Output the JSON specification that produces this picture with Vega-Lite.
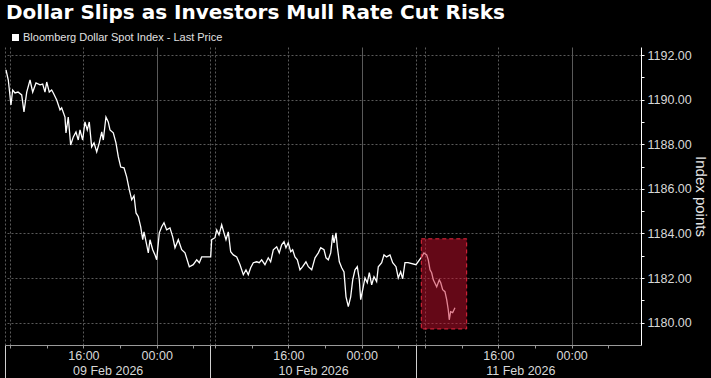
{
  "$schema": "https://vega.github.io/schema/vega-lite/v6.json",
  "width": 636,
  "height": 298,
  "autosize": {"type": "none"},
  "padding": {"left": 5, "top": 47, "right": 70, "bottom": 33},
  "background": "#000000",
  "config": {"view": {"stroke": null}},
  "title": {
    "text": "Dollar Slips as Investors Mull Rate Cut Risks",
    "anchor": "start",
    "frame": "group",
    "offset": 9,
    "dx": 1,
    "font": "DejaVu Sans",
    "fontSize": 20,
    "fontWeight": "bold",
    "color": "#ffffff"
  },
  "datasets": {
    "prices": [
      {"hour":0.11,"price":1191.33},{"hour":0.36,"price":1190.88},{"hour":0.65,"price":1189.76},{"hour":0.84,"price":1190.43},
      {"hour":1.09,"price":1190.30},{"hour":1.42,"price":1190.34},{"hour":1.82,"price":1190.21},{"hour":2.07,"price":1189.45},
      {"hour":2.37,"price":1190.34},{"hour":2.73,"price":1190.88},{"hour":3.02,"price":1190.34},{"hour":3.38,"price":1190.75},
      {"hour":3.82,"price":1190.66},{"hour":4.11,"price":1190.70},{"hour":4.36,"price":1190.34},{"hour":4.55,"price":1190.79},
      {"hour":4.83,"price":1190.34},{"hour":5.09,"price":1190.43},{"hour":5.27,"price":1190.30},{"hour":5.64,"price":1189.98},
      {"hour":6.00,"price":1189.54},{"hour":6.18,"price":1189.63},{"hour":6.54,"price":1189.22},{"hour":6.65,"price":1188.51},
      {"hour":6.90,"price":1189.22},{"hour":7.16,"price":1187.97},{"hour":7.45,"price":1188.33},{"hour":7.74,"price":1188.55},
      {"hour":7.99,"price":1188.19},{"hour":8.18,"price":1188.64},{"hour":8.47,"price":1188.19},{"hour":8.72,"price":1189.00},
      {"hour":8.97,"price":1188.64},{"hour":9.19,"price":1189.00},{"hour":9.45,"price":1187.88},{"hour":9.71,"price":1188.06},
      {"hour":10.00,"price":1187.66},{"hour":10.28,"price":1188.06},{"hour":10.55,"price":1188.55},{"hour":10.72,"price":1188.19},
      {"hour":11.01,"price":1189.22},{"hour":11.26,"price":1189.00},{"hour":11.45,"price":1188.64},{"hour":11.81,"price":1188.51},
      {"hour":12.10,"price":1188.06},{"hour":12.36,"price":1187.43},{"hour":12.62,"price":1186.98},{"hour":12.98,"price":1186.94},
      {"hour":13.27,"price":1186.54},{"hour":13.56,"price":1185.95},{"hour":13.82,"price":1185.51},{"hour":14.07,"price":1185.69},
      {"hour":14.29,"price":1184.92},{"hour":14.54,"price":1184.75},{"hour":14.80,"price":1184.30},{"hour":15.02,"price":1183.72},
      {"hour":15.16,"price":1184.07},{"hour":15.38,"price":1183.63},{"hour":15.63,"price":1183.13},{"hour":15.81,"price":1183.72},
      {"hour":16.11,"price":1183.27},{"hour":16.36,"price":1183.04},{"hour":16.54,"price":1182.82},{"hour":16.83,"price":1184.03},
      {"hour":17.09,"price":1184.30},{"hour":17.34,"price":1184.48},{"hour":17.63,"price":1184.16},{"hour":17.99,"price":1184.25},
      {"hour":18.29,"price":1183.85},{"hour":18.54,"price":1183.36},{"hour":18.90,"price":1183.72},{"hour":19.27,"price":1183.27},
      {"hour":19.63,"price":1183.13},{"hour":20.10,"price":1182.51},{"hour":20.53,"price":1182.60},{"hour":20.91,"price":1182.82},
      {"hour":21.19,"price":1182.69},{"hour":21.45,"price":1182.95},{"hour":22.43,"price":1182.95},{"hour":22.54,"price":1183.72},
      {"hour":22.90,"price":1183.81},{"hour":23.09,"price":1184.16},{"hour":23.34,"price":1183.94},{"hour":23.63,"price":1184.39},
      {"hour":23.88,"price":1184.03},{"hour":24.10,"price":1183.72},{"hour":24.35,"price":1184.07},{"hour":24.61,"price":1183.18},
      {"hour":24.90,"price":1183.04},{"hour":25.27,"price":1182.95},{"hour":25.63,"price":1182.60},{"hour":25.99,"price":1182.15},
      {"hour":26.28,"price":1182.37},{"hour":26.53,"price":1182.15},{"hour":26.79,"price":1182.46},{"hour":27.08,"price":1182.69},
      {"hour":27.45,"price":1182.73},{"hour":27.73,"price":1182.69},{"hour":27.99,"price":1182.82},{"hour":28.35,"price":1182.60},
      {"hour":28.71,"price":1182.91},{"hour":28.97,"price":1182.73},{"hour":29.26,"price":1183.27},{"hour":29.63,"price":1183.40},
      {"hour":29.91,"price":1183.13},{"hour":30.17,"price":1183.49},{"hour":30.43,"price":1183.63},{"hour":30.64,"price":1183.36},
      {"hour":30.89,"price":1183.58},{"hour":31.16,"price":1183.18},{"hour":31.37,"price":1183.27},{"hour":31.62,"price":1182.95},
      {"hour":31.88,"price":1182.82},{"hour":32.17,"price":1182.37},{"hour":32.46,"price":1182.51},{"hour":32.82,"price":1182.73},
      {"hour":33.08,"price":1182.51},{"hour":33.45,"price":1182.37},{"hour":33.81,"price":1182.91},{"hour":34.17,"price":1183.13},
      {"hour":34.43,"price":1183.36},{"hour":34.79,"price":1183.27},{"hour":35.01,"price":1182.91},{"hour":35.26,"price":1182.82},
      {"hour":35.52,"price":1183.13},{"hour":35.74,"price":1183.94},{"hour":35.88,"price":1183.58},{"hour":36.10,"price":1184.03},
      {"hour":36.24,"price":1183.40},{"hour":36.46,"price":1182.73},{"hour":36.72,"price":1182.46},{"hour":36.97,"price":1182.28},
      {"hour":37.19,"price":1181.16},{"hour":37.44,"price":1180.72},{"hour":37.70,"price":1181.16},{"hour":37.92,"price":1181.92},
      {"hour":38.17,"price":1182.37},{"hour":38.42,"price":1182.51},{"hour":38.64,"price":1181.92},{"hour":38.79,"price":1181.03},
      {"hour":39.01,"price":1181.48},{"hour":39.26,"price":1182.01},{"hour":39.51,"price":1181.79},{"hour":39.73,"price":1182.24},
      {"hour":39.99,"price":1181.70},{"hour":40.24,"price":1182.06},{"hour":40.53,"price":1181.84},{"hour":40.71,"price":1182.51},
      {"hour":41.08,"price":1182.69},{"hour":41.33,"price":1183.04},{"hour":41.62,"price":1182.95},{"hour":41.98,"price":1183.04},
      {"hour":42.28,"price":1182.69},{"hour":42.64,"price":1182.51},{"hour":42.89,"price":1182.01},{"hour":43.15,"price":1182.28},
      {"hour":43.37,"price":1181.97},{"hour":43.62,"price":1182.69},{"hour":43.95,"price":1182.69},{"hour":44.82,"price":1182.60},
      {"hour":45.44,"price":1182.95},{"hour":45.69,"price":1183.13},{"hour":45.99,"price":1183.04},{"hour":46.16,"price":1182.82},
      {"hour":46.35,"price":1182.37},{"hour":46.53,"price":1182.24},{"hour":46.71,"price":1181.92},{"hour":47.08,"price":1181.61},
      {"hour":47.36,"price":1181.92},{"hour":47.52,"price":1181.79},{"hour":47.73,"price":1181.48},{"hour":47.98,"price":1181.39},
      {"hour":48.17,"price":1181.03},{"hour":48.34,"price":1180.58},{"hour":48.45,"price":1180.13},{"hour":48.60,"price":1180.49},
      {"hour":48.82,"price":1180.45},{"hour":49.07,"price":1180.67}
    ],
    "box": [{"hour_start": 45.4, "hour_end": 50.35, "price_low": 1179.72, "price_high": 1183.76}]
  },
  "layer": [
    {
      "data": {"name": "prices"},
      "mark": {"type": "line", "strokeWidth": 1.3, "interpolate": "linear"},
      "encoding": {
        "x": {
          "field": "hour",
          "type": "quantitative",
          "title": null,
          "scale": {"domain": [0, 69.36], "nice": false, "zero": false},
          "axis": {
            "values": [0, 0.55, 4.55, 8.55, 12.55, 16.55, 20.55, 11.2, 22.4, 22.9, 26.9, 30.9, 34.9, 38.9, 42.9, 33.6, 44.8, 45.8, 49.8, 53.8, 57.8, 61.8, 65.8, 56.2],
            "tickCount": 200,
            "labelExpr": "(abs(datum.value-8.55)<0.01 || abs(datum.value-30.9)<0.01 || abs(datum.value-53.8)<0.01) ? '16:00' : (abs(datum.value-16.55)<0.01 || abs(datum.value-38.9)<0.01 || abs(datum.value-61.8)<0.01) ? '00:00' : abs(datum.value-11.2)<0.01 ? ['', '09 Feb 2026'] : abs(datum.value-33.6)<0.01 ? ['', '10 Feb 2026'] : abs(datum.value-56.2)<0.01 ? ['', '11 Feb 2026'] : ''",
            "labelOverlap": false,
            "labelFlush": false,
            "labelBound": false,
            "labelFont": "Liberation Sans",
            "labelFontSize": 12.5,
            "labelColor": "#d8d8d8",
            "labelPadding": 1,
            "labelLineHeight": 15,
            "labelBaseline": "top",
            "domainColor": "#9a9a9a",
            "tickSize": {"condition": {"test": "abs(datum.value-0)<0.01 || abs(datum.value-22.4)<0.01 || abs(datum.value-44.8)<0.01", "value": 33}, "value": 3},
            "tickColor": {"condition": {"test": "abs(datum.value-0)<0.01 || abs(datum.value-22.4)<0.01 || abs(datum.value-44.8)<0.01", "value": "#d0d0d0"}, "value": "#9a9a9a"},
            "tickOpacity": {"condition": {"test": "abs(datum.value-11.2)<0.01 || abs(datum.value-33.6)<0.01 || abs(datum.value-56.2)<0.01", "value": 0}, "value": 1},
            "grid": true,
            "gridColor": "#5a5a5a",
            "gridDash": {"condition": {"test": "abs(datum.value-16.55)<0.01 || abs(datum.value-38.9)<0.01 || abs(datum.value-61.8)<0.01", "value": []}, "value": [2, 2]},
            "gridOpacity": {"condition": {"test": "abs(datum.value-0)<0.01 || abs(datum.value-0.55)<0.01 || abs(datum.value-8.55)<0.01 || abs(datum.value-16.55)<0.01 || abs(datum.value-22.4)<0.01 || abs(datum.value-22.9)<0.01 || abs(datum.value-30.9)<0.01 || abs(datum.value-38.9)<0.01 || abs(datum.value-44.8)<0.01 || abs(datum.value-45.8)<0.01 || abs(datum.value-53.8)<0.01 || abs(datum.value-61.8)<0.01", "value": 1}, "value": 0}
          }
        },
        "y": {
          "field": "price",
          "type": "quantitative",
          "title": "Index points",
          "scale": {"domain": [1179.0, 1192.36], "nice": false, "zero": false},
          "axis": {
            "orient": "right",
            "values": [1180, 1181, 1182, 1183, 1184, 1185, 1186, 1187, 1188, 1189, 1190, 1191, 1192],
            "tickCount": 200,
            "labelExpr": "datum.value % 2 == 0 ? format(datum.value, '.2f') : ''",
            "labelOverlap": false,
            "labelFont": "Liberation Sans",
            "labelFontSize": 12.5,
            "labelColor": "#d8d8d8",
            "labelPadding": 3,
            "tickSize": 3,
            "tickColor": "#ffffff",
            "domainColor": "#ffffff",
            "grid": true,
            "gridColor": "#5a5a5a",
            "gridDash": [2, 2],
            "gridOpacity": {"condition": {"test": "datum.value % 2 == 0", "value": 1}, "value": 0},
            "titleFont": "Liberation Sans",
            "titleFontSize": 15,
            "titleFontWeight": "normal",
            "titleColor": "#e8e8e8",
            "titlePadding": 1
          }
        },
        "color": {
          "datum": "Bloomberg Dollar Spot Index - Last Price",
          "type": "nominal",
          "scale": {"range": ["#ffffff"]},
          "legend": {
            "orient": "none",
            "legendX": 5,
            "legendY": -15,
            "title": null,
            "symbolType": "square",
            "symbolSize": 30,
            "symbolFillColor": "#ffffff",
            "symbolStrokeColor": "#ffffff",
            "labelFont": "Liberation Sans",
            "labelFontSize": 11,
            "labelColor": "#e0e0e0",
            "labelOffset": 2,
            "labelLimit": 0
          }
        }
      }
    },
    {
      "data": {"name": "box"},
      "mark": {"type": "rect", "fill": "#c8102e", "fillOpacity": 0.5, "stroke": "#e8283f", "strokeDash": [4, 3], "strokeWidth": 1},
      "encoding": {
        "x": {"field": "hour_start", "type": "quantitative", "title": null, "scale": {"domain": [0, 69.36], "nice": false, "zero": false}},
        "x2": {"field": "hour_end"},
        "y": {"field": "price_low", "type": "quantitative", "title": "Index points", "scale": {"domain": [1179.0, 1192.36], "nice": false, "zero": false}},
        "y2": {"field": "price_high"}
      }
    }
  ]
}
